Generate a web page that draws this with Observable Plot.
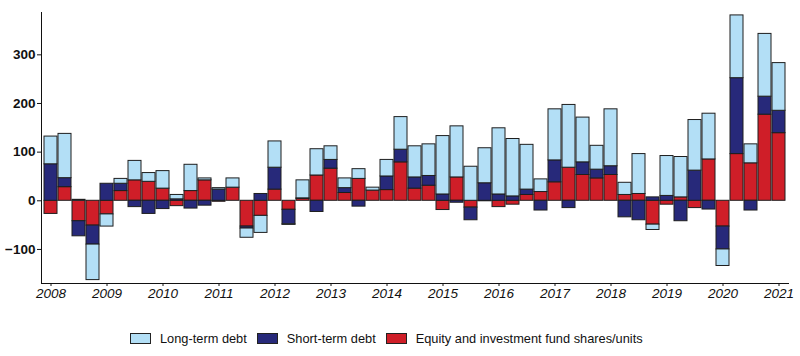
<!DOCTYPE html>
<html>
<head>
<meta charset="utf-8">
<script src="https://cdn.jsdelivr.net/npm/d3@7"></script>
<script src="https://cdn.jsdelivr.net/npm/@observablehq/plot@0.6"></script>
<style>
  html, body { margin: 0; padding: 0; background: #fff; }
  body { width: 800px; height: 356px; position: relative; font-family: "Liberation Sans", Arial, sans-serif; }
  #chart svg { display: block; font-family: "Liberation Sans", Arial, sans-serif; }
  #chart g[aria-label="y-axis tick label"] text { font-weight: bold; font-size: 13.5px; fill: #111; }
  #chart g[aria-label="x-axis tick label"] text { font-style: italic; font-size: 13.5px; fill: #111; }
  #legend { position: absolute; top: 331px; left: 130px; display: flex; align-items: center; font-size: 12.8px; color: #111; white-space: nowrap; }
  .sw { width: 21px; height: 11px; border: 1px solid #222; box-sizing: border-box; margin-right: 9px; }
  .it { display: flex; align-items: center; margin-right: 10px; }
</style>
</head>
<body>
<div id="chart"></div>
<div id="legend"></div>
<script>
const quarters = [
  "2008Q1","2008Q2","2008Q3","2008Q4","2009Q1","2009Q2","2009Q3","2009Q4",
  "2010Q1","2010Q2","2010Q3","2010Q4","2011Q1","2011Q2","2011Q3","2011Q4",
  "2012Q1","2012Q2","2012Q3","2012Q4","2013Q1","2013Q2","2013Q3","2013Q4",
  "2014Q1","2014Q2","2014Q3","2014Q4","2015Q1","2015Q2","2015Q3","2015Q4",
  "2016Q1","2016Q2","2016Q3","2016Q4","2017Q1","2017Q2","2017Q3","2017Q4",
  "2018Q1","2018Q2","2018Q3","2018Q4","2019Q1","2019Q2","2019Q3","2019Q4",
  "2020Q1","2020Q2","2020Q3","2020Q4","2021Q1"
];
const yearTicks = ["2008Q1","2009Q1","2010Q1","2011Q1","2012Q1","2013Q1","2014Q1",
  "2015Q1","2016Q1","2017Q1","2018Q1","2019Q1","2020Q1","2021Q1"];
const yearLabels = ["2008","2009","2010","2011","2012","2013","2014",
  "2015","2016","2017","2018","2019","2020","2021"];
const yTicks = [-100, 0, 100, 200, 300];

const seriesNames = ["Equity and investment fund shares/units", "Short-term debt", "Long-term debt"];
const legendOrder = ["Long-term debt", "Short-term debt", "Equity and investment fund shares/units"];
const seriesColors = ["#cf1e28", "#27297a", "#b3dff6"];

const equity = [-27,28,-42,-51,-28,20,42,39,25,-11,20,42,-2,27,-53,-31,
  23,-18.5,4,52,66,16,45,21,22,79,25,31,-19,48,-14,-1,
  -13,-8,12,18,38,68,53,46,53,12,14,-49,-8,7,-15,85,
  -53,96,77,177,139];
const shortTerm = [75,18.5,-31,-39,35,15,-13,-27,-17,3,-16,-10,23,0,-4,14,
  45,-30,1,-23,18,10,-12,0,28,26,23,20,13,-4,-26,36,
  13,9,11,-20,45,-15,26,18,18,-34,-40,7,10,-42,62,-18,
  -47,156,-20,37,46];
const longTerm = [57,91,2,-73,-25,10,40,18,36,9,54,4,3,19,-19,-35,
  54,-1,37,54,28,20,20,6,34,67,64,65,120,105,70,72,
  136,118,92,26,105,129,92,49,117,25,82,-11,82,83,104,94,
  -34,129,39,129,98];

const seriesValues = [equity, shortTerm, longTerm];
const data = [];
quarters.forEach((q, i) => {
  seriesNames.forEach((s, j) => data.push({q, s, v: seriesValues[j][i]}));
});

const chart = Plot.plot({
  width: 800,
  height: 306,
  marginLeft: 41,
  marginRight: 12,
  marginTop: 12,
  marginBottom: 23,
  style: {fontFamily: "Liberation Sans, Arial, sans-serif", color: "#111"},
  x: {
    domain: quarters,
    padding: 0.1,
    ticks: yearTicks,
    tickFormat: d => yearLabels[yearTicks.indexOf(d)],
    tickSize: 3,
    tickPadding: 2,
    line: true,
    label: null
  },
  y: {
    domain: [-170, 387],
    ticks: yTicks,
    tickSize: 4,
    tickPadding: 2,
    line: true,
    label: null
  },
  color: {domain: seriesNames, range: seriesColors},
  marks: [
    Plot.barY(data, {x: "q", y: "v", fill: "s", stroke: "#1e1e1e", strokeWidth: 1, order: seriesNames})
  ]
});
document.getElementById("chart").appendChild(chart);

const legend = document.getElementById("legend");
legendOrder.forEach(name => {
  const it = document.createElement("div");
  it.className = "it";
  const sw = document.createElement("div");
  sw.className = "sw";
  sw.style.background = seriesColors[seriesNames.indexOf(name)];
  const tx = document.createElement("span");
  tx.textContent = name;
  it.appendChild(sw);
  it.appendChild(tx);
  legend.appendChild(it);
});
</script>
</body>
</html>
